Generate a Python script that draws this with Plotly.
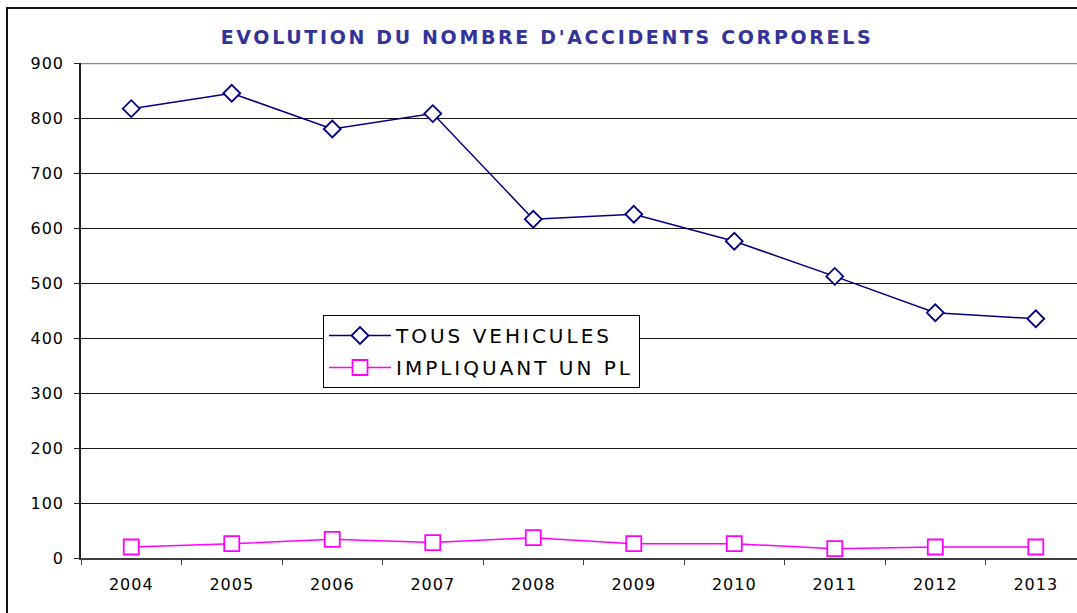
import plotly.graph_objects as go

years = ["2004", "2005", "2006", "2007", "2008", "2009", "2010", "2011", "2012", "2013"]
tous_vehicules = [817, 845, 780, 808, 616, 625, 576, 512, 446, 435]
impliquant_pl = [20, 26, 34, 28, 37, 26, 26, 17, 20, 20]
y_ticks = [0, 100, 200, 300, 400, 500, 600, 700, 800, 900]

title_text = "EVOLUTION DU NOMBRE D'ACCIDENTS CORPORELS"
name_tv = "TOUS VEHICULES"
name_pl = "IMPLIQUANT UN PL"

FONT = "DejaVu Sans, Arial, sans-serif"


def spaced(t, px):
    return f'<span style="letter-spacing:{px}px">{t}</span>'


fig = go.Figure()
fig.add_trace(go.Scatter(
    x=years, y=tous_vehicules, mode="lines+markers", name=spaced(name_tv, 3),
    legendgroup="a",
    line=dict(color="#000080", width=1.5),
    marker=dict(symbol="diamond", size=13, color="white",
                line=dict(color="#000080", width=1.8)),
))
fig.add_trace(go.Scatter(
    x=years, y=impliquant_pl, mode="lines+markers", name=spaced(name_pl, 3),
    legendgroup="b",
    line=dict(color="#FF00FF", width=1.5),
    marker=dict(symbol="square", size=15, color="white",
                line=dict(color="#FF00FF", width=1.8)),
))

W, H = 1077, 613
ml, mr, mt, mb = 81, 0, 63, 55
pw, ph = W - ml - mr, H - mt - mb

fig.update_layout(
    width=W, height=H,
    margin=dict(l=ml, r=mr, t=mt, b=mb, pad=0),
    paper_bgcolor="white", plot_bgcolor="white",
    font=dict(family=FONT, color="black", size=16),
    title=dict(text="<b>" + spaced(title_text, 2.65) + "</b>",
               font=dict(family=FONT, size=19, color="#333399"),
               x=547 / W, xanchor="center",
               y=1 - 37 / H, yanchor="middle"),
    showlegend=True,
    legend=dict(x=(323 - ml) / pw, y=(558 - 315) / ph, xanchor="left", yanchor="top",
                bordercolor="black", borderwidth=1, bgcolor="white",
                font=dict(family=FONT, size=20, color="black"),
                itemwidth=62, tracegroupgap=3, traceorder="grouped"),
    xaxis=dict(
        type="category", range=[-0.5, 9.41],
        tickmode="array", tickvals=years,
        ticktext=[spaced(y, 1) for y in years],
        tickson="boundaries", ticks="outside", ticklen=5, tickcolor="#404040",
        tickwidth=1,
        showline=True, linecolor="#404040", linewidth=2,
        showgrid=False, zeroline=False,
        tickfont=dict(family=FONT, size=16, color="black"),
        ticklabelstandoff=11,
        fixedrange=True,
    ),
    yaxis=dict(
        range=[0, 900], tickmode="array", tickvals=y_ticks,
        ticktext=[spaced(str(v), 1) for v in y_ticks],
        ticks="outside", ticklen=5, tickcolor="#202020", tickwidth=1,
        showline=True, linecolor="#202020", linewidth=1.5,
        showgrid=True, gridcolor="#1a1a1a", gridwidth=1,
        zeroline=False,
        tickfont=dict(family=FONT, size=16, color="black"),
        ticklabelstandoff=7,
        fixedrange=True,
    ),
    shapes=[
        # top border of the plot area (gray)
        dict(type="line", xref="paper", yref="y", x0=0, x1=1, y0=900, y1=900,
             line=dict(color="#8c8c8c", width=2.5), layer="above"),
        # outer chart frame
        dict(type="rect", xref="paper", yref="paper",
             x0=(7 - ml) / pw, x1=(W + 20 - ml) / pw,
             y0=-(mb + 40) / ph, y1=(H - mb - 8) / ph,
             line=dict(color="#111111", width=2), fillcolor="rgba(0,0,0,0)",
             layer="below"),
    ],
)

fig.write_html("out.html", config={"displayModeBar": False},
               post_script="document.body.style.margin='0px';document.body.style.overflow='hidden';")
